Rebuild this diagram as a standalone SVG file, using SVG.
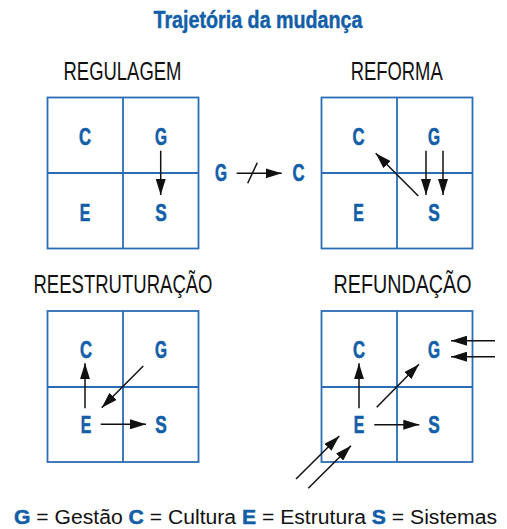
<svg xmlns="http://www.w3.org/2000/svg" width="507" height="529" viewBox="0 0 507 529">
<style>
.grid{fill:none;stroke:#2a6db3;stroke-width:1.8}
.l{font-family:"Liberation Sans Narrow","Liberation Sans",Arial,sans-serif;font-weight:bold;font-size:23px;fill:#125ea8;stroke:#125ea8;stroke-width:0.6;text-anchor:middle}
.lab{font-family:"Liberation Sans Narrow","Liberation Sans",Arial,sans-serif;font-size:25px;fill:#111;text-anchor:middle}
.title{font-family:"Liberation Sans Narrow","Liberation Sans",Arial,sans-serif;font-weight:bold;font-size:23px;fill:#125ea8;stroke:#125ea8;stroke-width:0.4;text-anchor:middle}
.leg{font-family:"Liberation Sans Narrow","Liberation Sans",Arial,sans-serif;font-size:20px;fill:#111}
.b{font-weight:bold;fill:#125ea8;stroke:#125ea8;stroke-width:0.5}
.a{stroke:#111;stroke-width:1.5;fill:none;marker-end:url(#ah)}
</style>
<defs>
<marker id="ah" markerUnits="userSpaceOnUse" markerWidth="16" markerHeight="10" refX="16" refY="5" orient="auto" viewBox="0 0 16 10">
<path d="M0,0 L16,5 L0,10 z" fill="#111"/>
</marker>
</defs>
<text class="title" x="258" y="28" textLength="209" lengthAdjust="spacingAndGlyphs">Trajetória da mudança</text>

<g id="regulagem">
<text class="lab" x="122.5" y="80" textLength="118" lengthAdjust="spacingAndGlyphs">REGULAGEM</text>
<rect class="grid" x="47.5" y="97.5" width="151" height="151"/>
<path class="grid" d="M123,97.5V248.5M47.5,173H198.5"/>
<text class="l" x="85" y="145" textLength="12" lengthAdjust="spacingAndGlyphs">C</text>
<text class="l" x="161" y="145" textLength="12" lengthAdjust="spacingAndGlyphs">G</text>
<text class="l" x="85" y="220.5" textLength="10.5" lengthAdjust="spacingAndGlyphs">E</text>
<text class="l" x="161" y="220.5" textLength="11.5" lengthAdjust="spacingAndGlyphs">S</text>
</g>

<g id="reforma">
<text class="lab" x="396.7" y="80" textLength="92" lengthAdjust="spacingAndGlyphs">REFORMA</text>
<rect class="grid" x="321.5" y="97.5" width="151" height="151"/>
<path class="grid" d="M397,97.5V248.5M321.5,173H472.5"/>
<text class="l" x="358.5" y="145" textLength="12" lengthAdjust="spacingAndGlyphs">C</text>
<text class="l" x="434" y="145" textLength="12" lengthAdjust="spacingAndGlyphs">G</text>
<text class="l" x="358.5" y="220.5" textLength="10.5" lengthAdjust="spacingAndGlyphs">E</text>
<text class="l" x="434" y="220.5" textLength="11.5" lengthAdjust="spacingAndGlyphs">S</text>
</g>

<g id="gc">
<text class="l" x="221" y="180.7" textLength="12" lengthAdjust="spacingAndGlyphs">G</text>
<text class="l" x="298.5" y="180.7" textLength="12" lengthAdjust="spacingAndGlyphs">C</text>
</g>

<g id="reestruturacao">
<text class="lab" x="123" y="293" textLength="179" lengthAdjust="spacingAndGlyphs">REESTRUTURAÇÃO</text>
<rect class="grid" x="47.5" y="311" width="151" height="151"/>
<path class="grid" d="M123,311V462M47.5,387H198.5"/>
<text class="l" x="86" y="357.5" textLength="12" lengthAdjust="spacingAndGlyphs">C</text>
<text class="l" x="161" y="357.5" textLength="12" lengthAdjust="spacingAndGlyphs">G</text>
<text class="l" x="86" y="433" textLength="10.5" lengthAdjust="spacingAndGlyphs">E</text>
<text class="l" x="161" y="433" textLength="11.5" lengthAdjust="spacingAndGlyphs">S</text>
</g>

<g id="refundacao">
<text class="lab" x="402.5" y="293" textLength="138" lengthAdjust="spacingAndGlyphs">REFUNDAÇÃO</text>
<rect class="grid" x="321.5" y="311" width="151" height="151"/>
<path class="grid" d="M397,311V462M321.5,387H472.5"/>
<text class="l" x="359" y="357.5" textLength="12" lengthAdjust="spacingAndGlyphs">C</text>
<text class="l" x="434" y="357.5" textLength="12" lengthAdjust="spacingAndGlyphs">G</text>
<text class="l" x="359" y="433" textLength="10.5" lengthAdjust="spacingAndGlyphs">E</text>
<text class="l" x="434" y="433" textLength="11.5" lengthAdjust="spacingAndGlyphs">S</text>
</g>

<g id="connectors">
<line class="a" x1="160.7" y1="150.7" x2="160.7" y2="195"/>
<line class="a" x1="236.7" y1="173.3" x2="281.7" y2="173.3"/>
<line x1="247.7" y1="183.3" x2="257.3" y2="162.7" stroke="#111" stroke-width="1.5"/>
<line class="a" x1="426" y1="150.7" x2="426" y2="195"/>
<line class="a" x1="443" y1="150.7" x2="443" y2="195"/>
<line class="a" x1="418.3" y1="196" x2="375.7" y2="153.3"/>
<line class="a" x1="85" y1="408.3" x2="85" y2="363.3"/>
<line class="a" x1="143.3" y1="366" x2="101.7" y2="407.7"/>
<line class="a" x1="100.7" y1="424.3" x2="146" y2="424.3"/>
<line class="a" x1="359" y1="408.3" x2="359" y2="363.3"/>
<line class="a" x1="376.7" y1="407.3" x2="419" y2="364.3"/>
<line class="a" x1="374.3" y1="424.7" x2="419.3" y2="424.7"/>
<line class="a" x1="495" y1="340.7" x2="451" y2="340.7"/>
<line class="a" x1="495" y1="356.7" x2="451" y2="356.7"/>
<line class="a" x1="296" y1="479" x2="339.3" y2="436"/>
<line class="a" x1="308.3" y1="488.3" x2="351" y2="445.7"/>
</g>

<text class="leg" x="14" y="524" textLength="483" lengthAdjust="spacingAndGlyphs"><tspan class="b">G</tspan> = Gestão <tspan class="b">C</tspan> = Cultura <tspan class="b">E</tspan> = Estrutura <tspan class="b">S</tspan> = Sistemas</text>
</svg>
